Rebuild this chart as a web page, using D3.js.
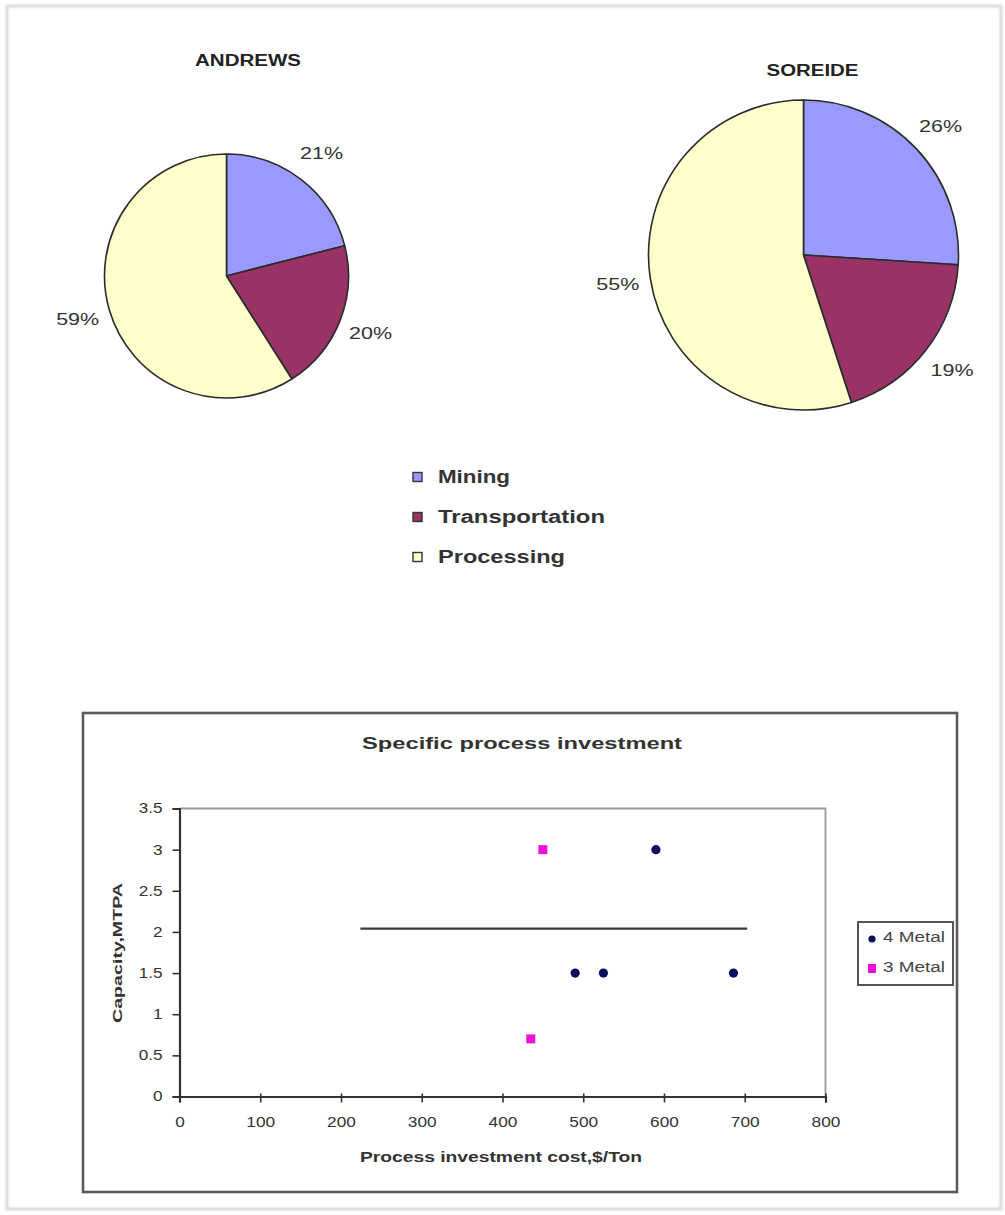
<!DOCTYPE html>
<html>
<head>
<meta charset="utf-8">
<script src="https://cdn.jsdelivr.net/npm/d3@7"></script>
<style>
  html, body { margin: 0; padding: 0; background: #fff; }
  svg { display: block; }
  text { font-family: "Liberation Sans", Arial, sans-serif; }
</style>
</head>
<body>
<svg id="chart" width="1005" height="1215"></svg>
<script>
// Cost breakdown categories shared by both pies
const categories = ["Mining", "Transportation", "Processing"];
const categoryColors = ["#9999FF", "#993366", "#FFFFCC"];

// Percent shares per study
const andrewsValues = [21, 20, 59];
const soreideValues = [26, 19, 55];

// Scatter: process investment cost ($/Ton) vs capacity (MTPA)
const fourMetalCost = [590, 490, 525, 686];
const fourMetalCapacity = [3, 1.5, 1.5, 1.5];
const threeMetalCost = [450, 435];
const threeMetalCapacity = [3, 0.7];
const refLineCost = [224, 703];
const refLineCapacity = [2.04, 2.04];

const xTicks = [0, 100, 200, 300, 400, 500, 600, 700, 800];
const yTicks = [0, 0.5, 1, 1.5, 2, 2.5, 3, 3.5];

const svg = d3.select("#chart");

// soft page edge
const defs = svg.append("defs");
defs.append("filter").attr("id", "soft")
  .append("feGaussianBlur").attr("stdDeviation", 1.2);
svg.append("rect")
  .attr("x", 7).attr("y", 6).attr("width", 994).attr("height", 1203)
  .attr("fill", "none").attr("stroke", "#d2d2d2").attr("stroke-width", 2.5)
  .attr("filter", "url(#soft)");

// ---------- Pies ----------
function drawPie(cfg) {
  const g = svg.append("g").attr("transform", `translate(${cfg.cx},${cfg.cy})`);
  const pie = d3.pie().sort(null).value(d => d)(cfg.values);
  const arc = d3.arc().innerRadius(0).outerRadius(cfg.r);
  const labelArc = d3.arc().innerRadius(cfg.r + 33).outerRadius(cfg.r + 33);

  g.selectAll("path.slice").data(pie).join("path")
    .attr("class", "slice")
    .attr("d", arc)
    .attr("fill", (d, i) => categoryColors[i])
    .attr("stroke", "#2a2a2a")
    .attr("stroke-width", 1.6)
    .attr("stroke-linejoin", "round");

  g.selectAll("text.pct").data(pie).join("text")
    .attr("class", "pct")
    .attr("transform", d => `translate(${labelArc.centroid(d)})`)
    .attr("text-anchor", "middle")
    .attr("dominant-baseline", "central")
    .attr("font-size", 16)
    .attr("fill", "#333")
    .attr("textLength", 43)
    .attr("lengthAdjust", "spacingAndGlyphs")
    .text(d => d.data + "%");

  svg.append("text")
    .attr("x", cfg.titleX).attr("y", cfg.titleY)
    .attr("text-anchor", "middle")
    .attr("dominant-baseline", "central")
    .attr("font-size", 16).attr("font-weight", "bold")
    .attr("fill", "#222")
    .attr("textLength", cfg.titleLen)
    .attr("lengthAdjust", "spacingAndGlyphs")
    .text(cfg.title);
}

drawPie({ cx: 226.5, cy: 276, r: 122, values: andrewsValues,
  title: "ANDREWS", titleX: 248, titleY: 60, titleLen: 106 });
drawPie({ cx: 803.5, cy: 255, r: 155, values: soreideValues,
  title: "SOREIDE", titleX: 812.5, titleY: 70, titleLen: 92 });

// pie legend
const legendWidths = [72, 167, 127];
const pieLegend = svg.append("g");
categories.forEach((c, i) => {
  const y = 477 + i * 40;
  pieLegend.append("rect")
    .attr("x", 413).attr("y", y - 4.5).attr("width", 9).attr("height", 9)
    .attr("fill", categoryColors[i]).attr("stroke", "#333").attr("stroke-width", 1.4);
  pieLegend.append("text")
    .attr("x", 438).attr("y", y)
    .attr("dominant-baseline", "central")
    .attr("font-size", 18).attr("font-weight", "bold")
    .attr("fill", "#333")
    .attr("textLength", legendWidths[i])
    .attr("lengthAdjust", "spacingAndGlyphs")
    .text(c);
});

// ---------- Scatter chart ----------
svg.append("rect")
  .attr("x", 83).attr("y", 713).attr("width", 874).attr("height", 479)
  .attr("fill", "#fff").attr("stroke", "#5a5a5a").attr("stroke-width", 2.6);

svg.append("text")
  .attr("x", 522).attr("y", 743)
  .attr("text-anchor", "middle").attr("dominant-baseline", "central")
  .attr("font-size", 17).attr("font-weight", "bold").attr("fill", "#333")
  .attr("textLength", 320).attr("lengthAdjust", "spacingAndGlyphs")
  .text("Specific process investment");

const x = d3.scaleLinear().domain([0, 800]).range([179.5, 825.5]);
const y = d3.scaleLinear().domain([0, 3.5]).range([1096.5, 808.5]);

// plot area top/right border
svg.append("path")
  .attr("d", `M${x(0)},${y(3.5)}H${x(800)}V${y(0)}`)
  .attr("fill", "none").attr("stroke", "#9a9a9a").attr("stroke-width", 1.8);

const xAxis = svg.append("g")
  .attr("transform", `translate(0,${y(0)})`)
  .call(d3.axisBottom(x).tickValues(xTicks).tickSize(6).tickPadding(15).tickFormat(d3.format("d")));
const yAxis = svg.append("g")
  .attr("transform", `translate(${x(0)},0)`)
  .call(d3.axisLeft(y).tickValues(yTicks).tickSize(7).tickPadding(10).tickFormat(d => String(d)));

[xAxis, yAxis].forEach(a => {
  a.select(".domain").attr("stroke", "#333").attr("stroke-width", 2.2);
  a.selectAll(".tick line").attr("stroke", "#333").attr("stroke-width", 1.6);
  a.selectAll(".tick text")
    .attr("font-family", "'Liberation Sans', Arial, sans-serif")
    .attr("font-size", 14).attr("fill", "#333")
    .attr("lengthAdjust", "spacingAndGlyphs")
    .attr("textLength", function() { const t = this.textContent; return t.length * 9.6 - (t.includes(".") ? 5 : 0); });
});
// x-axis ticks also poke slightly above the axis line
xAxis.selectAll(".tick line").attr("y1", -3);

svg.append("text")
  .attr("x", 501).attr("y", 1157)
  .attr("text-anchor", "middle").attr("dominant-baseline", "central")
  .attr("font-size", 14).attr("font-weight", "bold").attr("fill", "#333")
  .attr("textLength", 282).attr("lengthAdjust", "spacingAndGlyphs")
  .text("Process investment cost,$/Ton");

svg.append("text")
  .attr("transform", `translate(117,953) rotate(-90)`)
  .attr("text-anchor", "middle").attr("dominant-baseline", "central")
  .attr("font-size", 13).attr("font-weight", "bold").attr("fill", "#333")
  .attr("textLength", 140).attr("lengthAdjust", "spacingAndGlyphs")
  .text("Capacity,MTPA");

// reference line
const line = d3.line().x(d => x(d[0])).y(d => y(d[1]));
svg.append("path")
  .datum(d3.zip(refLineCost, refLineCapacity))
  .attr("d", line)
  .attr("fill", "none").attr("stroke", "#3a3a3a").attr("stroke-width", 2.2);

// series markers
svg.append("g").selectAll("circle")
  .data(d3.zip(fourMetalCost, fourMetalCapacity)).join("circle")
  .attr("cx", d => x(d[0])).attr("cy", d => y(d[1]))
  .attr("r", 4.6)
  .attr("fill", "#0b0b60");

svg.append("g").selectAll("rect")
  .data(d3.zip(threeMetalCost, threeMetalCapacity)).join("rect")
  .attr("x", d => x(d[0]) - 4.5).attr("y", d => y(d[1]) - 4.5)
  .attr("width", 9).attr("height", 9)
  .attr("fill", "#F010D8");

// scatter legend
const leg = svg.append("g");
leg.append("rect")
  .attr("x", 858).attr("y", 922).attr("width", 95).attr("height", 63)
  .attr("fill", "#fff").attr("stroke", "#444").attr("stroke-width", 1.8);
leg.append("circle")
  .attr("cx", 872).attr("cy", 939).attr("r", 3.6)
  .attr("fill", "#0b0b60");
leg.append("rect")
  .attr("x", 868).attr("y", 964).attr("width", 8).attr("height", 9)
  .attr("fill", "#F010D8");
[["4 Metal", 937], ["3 Metal", 967]].forEach(([t, ty]) => {
  leg.append("text")
    .attr("x", 883).attr("y", ty)
    .attr("dominant-baseline", "central")
    .attr("font-size", 14).attr("fill", "#444")
    .attr("textLength", 62).attr("lengthAdjust", "spacingAndGlyphs")
    .text(t);
});
</script>
</body>
</html>
